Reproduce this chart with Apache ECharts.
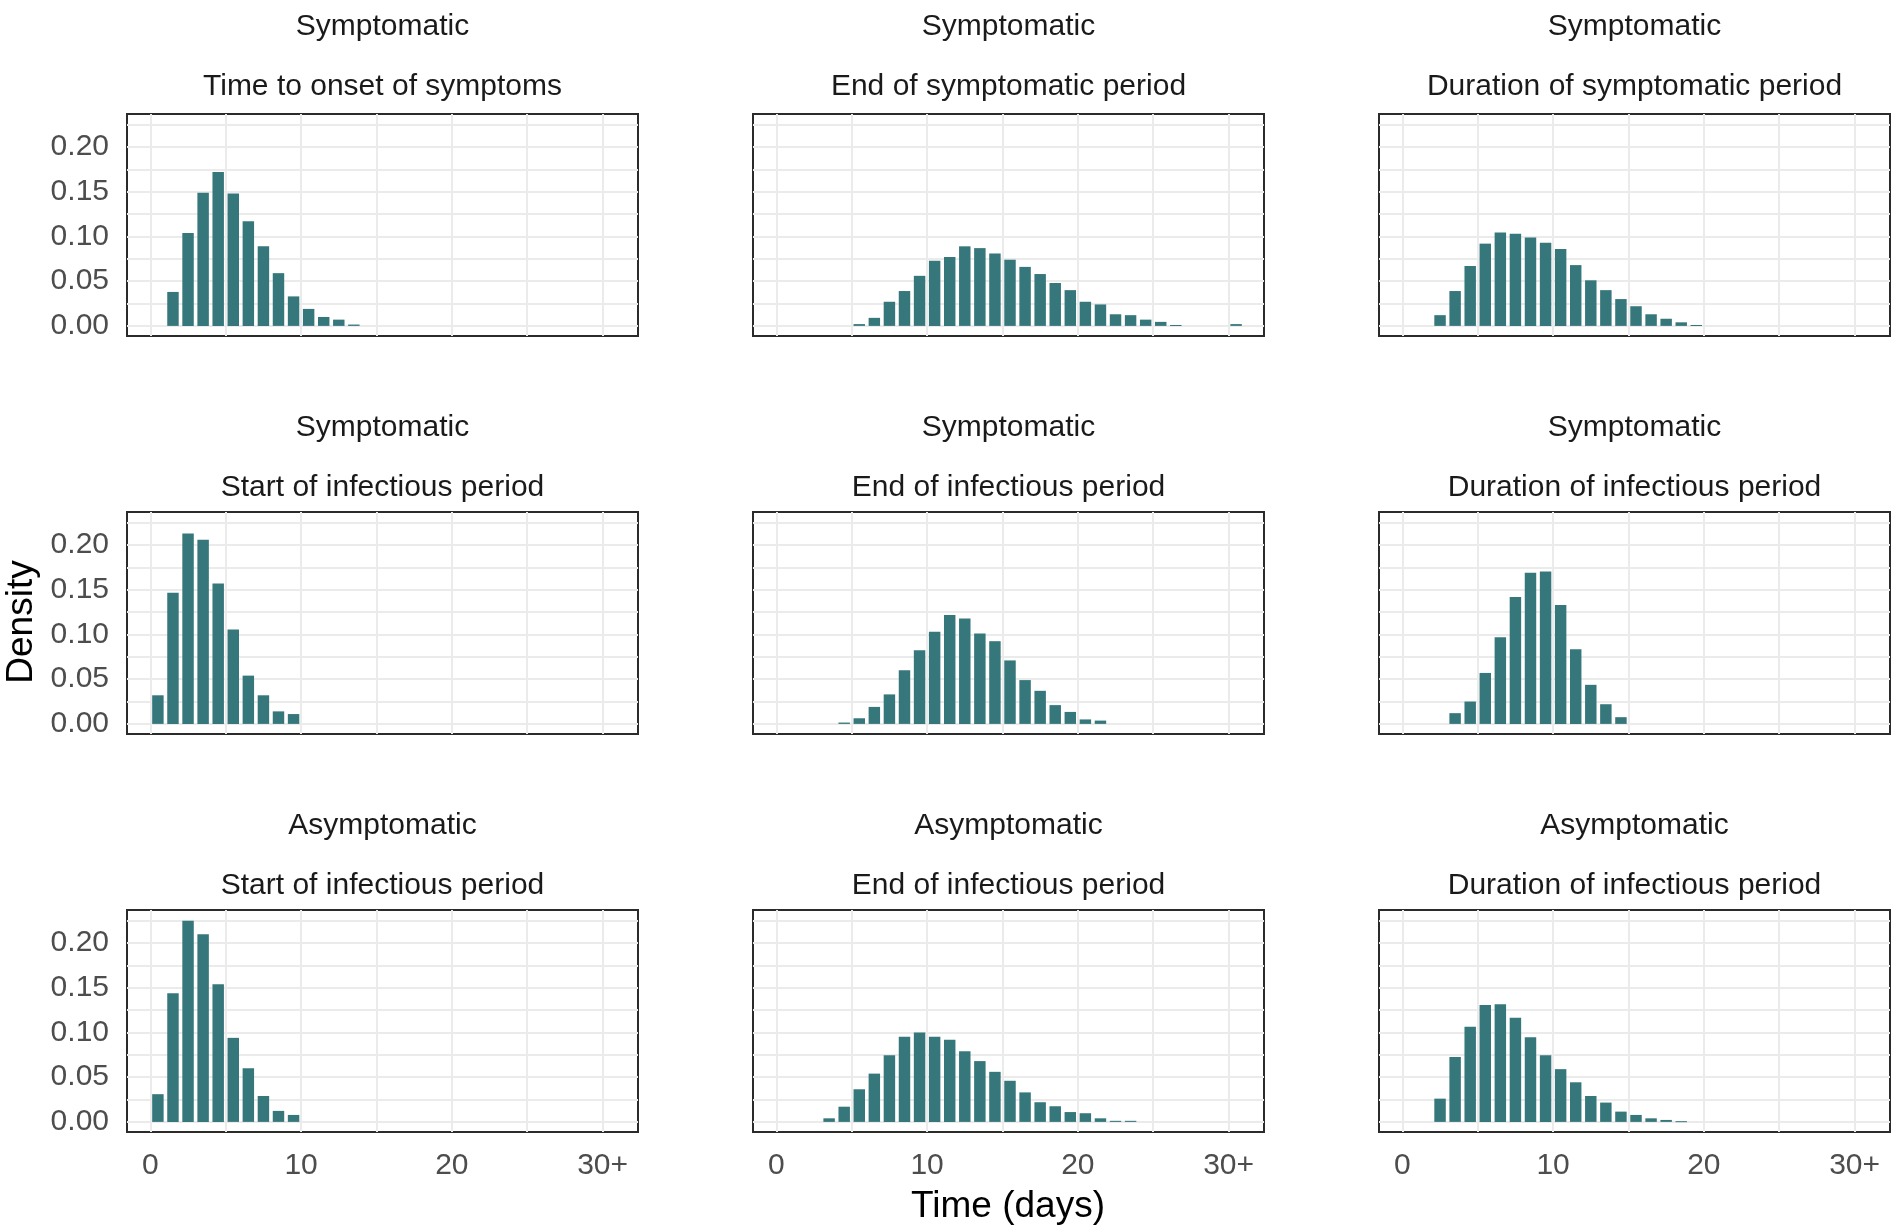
<!DOCTYPE html>
<html>
<head>
<meta charset="utf-8">
<title>Time distributions</title>
<script src="https://cdn.jsdelivr.net/npm/echarts@6/dist/echarts.min.js"></script>
<style>
  html, body { margin: 0; padding: 0; background: #ffffff; }
  #chart { width: 1895px; height: 1227px; }
</style>
</head>
<body>
<div id="chart"></div>
<script>
// Day bins 0..29 plus a final "30+" bin; each density array has one value per bin.
const binLabels = ['0','1','2','3','4','5','6','7','8','9','10','11','12','13','14','15',
  '16','17','18','19','20','21','22','23','24','25','26','27','28','29','30+'];

const groupLabels = [
  'Symptomatic', 'Symptomatic', 'Symptomatic',
  'Symptomatic', 'Symptomatic', 'Symptomatic',
  'Asymptomatic', 'Asymptomatic', 'Asymptomatic'
];
const measureLabels = [
  'Time to onset of symptoms', 'End of symptomatic period', 'Duration of symptomatic period',
  'Start of infectious period', 'End of infectious period', 'Duration of infectious period',
  'Start of infectious period', 'End of infectious period', 'Duration of infectious period'
];

const xTickLabels = [0, 10, 20, 30];
const yTickLabels = [0, 0.05, 0.10, 0.15, 0.20];

const symOnset = [0, 0.038, 0.104, 0.149, 0.172, 0.148, 0.117, 0.089, 0.059, 0.033,
  0.019, 0.010, 0.007, 0.0015, 0, 0, 0, 0, 0, 0,
  0, 0, 0, 0, 0, 0, 0, 0, 0, 0, 0];
const symEndSymptomatic = [0, 0, 0, 0, 0, 0.002, 0.009, 0.027, 0.039, 0.056,
  0.073, 0.077, 0.089, 0.087, 0.081, 0.074, 0.066, 0.058, 0.048, 0.040,
  0.027, 0.024, 0.013, 0.012, 0.007, 0.0045, 0.001, 0, 0, 0, 0.002];
const symDurSymptomatic = [0, 0, 0.012, 0.039, 0.067, 0.092, 0.1045, 0.103, 0.099, 0.093,
  0.086, 0.068, 0.051, 0.040, 0.030, 0.022, 0.013, 0.008, 0.004, 0.001,
  0, 0, 0, 0, 0, 0, 0, 0, 0, 0, 0];
const symStartInfectious = [0.032, 0.1466, 0.213, 0.206, 0.157, 0.1056, 0.054, 0.032, 0.014, 0.011,
  0, 0, 0, 0, 0, 0, 0, 0, 0, 0,
  0, 0, 0, 0, 0, 0, 0, 0, 0, 0, 0];
const symEndInfectious = [0, 0, 0, 0, 0.0015, 0.0063, 0.019, 0.033, 0.060, 0.0825,
  0.103, 0.1217, 0.118, 0.101, 0.0925, 0.071, 0.049, 0.037, 0.021, 0.0134,
  0.005, 0.0037, 0, 0, 0, 0, 0, 0, 0, 0, 0];
const symDurInfectious = [0, 0, 0, 0.012, 0.025, 0.057, 0.097, 0.142, 0.169, 0.1705,
  0.133, 0.0836, 0.0437, 0.022, 0.0075, 0, 0, 0, 0, 0,
  0, 0, 0, 0, 0, 0, 0, 0, 0, 0, 0];
const asymStartInfectious = [0.031, 0.144, 0.225, 0.210, 0.154, 0.094, 0.060, 0.029, 0.0123, 0.0078,
  0, 0, 0, 0, 0, 0, 0, 0, 0, 0,
  0, 0, 0, 0, 0, 0, 0, 0, 0, 0, 0];
const asymEndInfectious = [0, 0, 0, 0.004, 0.017, 0.0365, 0.054, 0.0745, 0.0953, 0.100,
  0.0953, 0.092, 0.079, 0.068, 0.056, 0.046, 0.033, 0.022, 0.0175, 0.011,
  0.0097, 0.004, 0.0012, 0.0012, 0, 0, 0, 0, 0, 0, 0];
const asymDurInfectious = [0, 0, 0.026, 0.0726, 0.1065, 0.1307, 0.1315, 0.1166, 0.0946, 0.0745,
  0.059, 0.0443, 0.029, 0.0216, 0.0115, 0.0078, 0.004, 0.0022, 0.0008, 0,
  0, 0, 0, 0, 0, 0, 0, 0, 0, 0, 0];

const panelDensities = [
  symOnset, symEndSymptomatic, symDurSymptomatic,
  symStartInfectious, symEndInfectious, symDurInfectious,
  asymStartInfectious, asymEndInfectious, asymDurInfectious
];

// Layout of the 3x3 facet grid (pixels)
const colLeft = [127, 753, 1379];
const rowTop = [114, 512, 910];
const panelW = 511;
const panelH = 222;

const BAR_COLOR = '#36777b';
const GRID_COLOR = '#ebebeb';
const TEXT_FONT = 'Liberation Sans, Arial, sans-serif';
const BAR_HALF = 0.38;

const xGridValues = [0, 5, 10, 15, 20, 25, 30];
const yGridValues = [0, 0.025, 0.05, 0.075, 0.1, 0.125, 0.15, 0.175, 0.2, 0.225];

const grids = [], xAxes = [], yAxes = [], series = [], graphics = [];

panelDensities.forEach((dens, i) => {
  const r = Math.floor(i / 3), c = i % 3;
  grids.push({
    left: colLeft[c], top: rowTop[r], width: panelW, height: panelH,
    show: true, backgroundColor: '#ffffff', borderColor: '#2b2b2b', borderWidth: 2
  });
  xAxes.push({
    type: 'value', gridIndex: i, min: -1.55, max: 32.35,
    axisLine: { show: false },
    axisTick: { show: false, customValues: xGridValues },
    splitLine: { show: true, lineStyle: { color: GRID_COLOR, width: 2 } },
    axisLabel: {
      show: r === 2, customValues: xTickLabels, margin: 19,
      fontSize: 30, color: '#4d4d4d', fontFamily: TEXT_FONT,
      formatter: v => (v === 30 ? '30+' : String(v))
    }
  });
  yAxes.push({
    type: 'value', gridIndex: i, min: -0.0113, max: 0.237,
    axisLine: { show: false },
    axisTick: { show: false, customValues: yGridValues },
    splitLine: { show: true, lineStyle: { color: GRID_COLOR, width: 2 } },
    axisLabel: {
      show: c === 0, customValues: yTickLabels, margin: 18,
      fontSize: 30, color: '#4d4d4d', fontFamily: TEXT_FONT,
      formatter: v => v.toFixed(2)
    }
  });
  const data = [];
  dens.forEach((d, k) => { if (d > 0) data.push([k + 0.5, d, binLabels[k]]); });
  series.push({
    type: 'custom', xAxisIndex: i, yAxisIndex: i, data: data,
    itemStyle: { color: BAR_COLOR },
    renderItem: (params, api) => {
      const x = api.value(0), y = api.value(1);
      const p0 = api.coord([x - BAR_HALF, 0]);
      const p1 = api.coord([x + BAR_HALF, y]);
      return {
        type: 'rect',
        shape: { x: p0[0], y: p1[1], width: p1[0] - p0[0], height: Math.max(p0[1] - p1[1], 1) },
        style: { fill: BAR_COLOR }
      };
    }
  });
  // Two-line facet strip: group on top, measure below
  const cx = colLeft[c] + panelW / 2;
  const shift = r === 0 ? 1 : 4;
  graphics.push({
    type: 'text', x: cx, y: rowTop[r] - 88 + shift,
    style: { text: groupLabels[i], font: '30px ' + TEXT_FONT, fill: '#1a1a1a',
             textAlign: 'center', textVerticalAlign: 'middle' }
  });
  graphics.push({
    type: 'text', x: cx, y: rowTop[r] - 28 + shift,
    style: { text: measureLabels[i], font: '30px ' + TEXT_FONT, fill: '#1a1a1a',
             textAlign: 'center', textVerticalAlign: 'middle' }
  });
});

// Shared axis titles
graphics.push({
  type: 'text', x: 1008, y: 1207,
  style: { text: 'Time (days)', font: '37px ' + TEXT_FONT, fill: '#000000',
           textAlign: 'center', textVerticalAlign: 'middle' }
});
graphics.push({
  type: 'text', x: 22, y: 622, rotation: Math.PI / 2,
  style: { text: 'Density', font: '37px ' + TEXT_FONT, fill: '#000000',
           textAlign: 'center', textVerticalAlign: 'middle' }
});

const chart = echarts.init(document.getElementById('chart'), null, { renderer: 'canvas' });
chart.setOption({
  animation: false,
  backgroundColor: '#ffffff',
  grid: grids,
  xAxis: xAxes,
  yAxis: yAxes,
  series: series,
  graphic: graphics
});
</script>
</body>
</html>
